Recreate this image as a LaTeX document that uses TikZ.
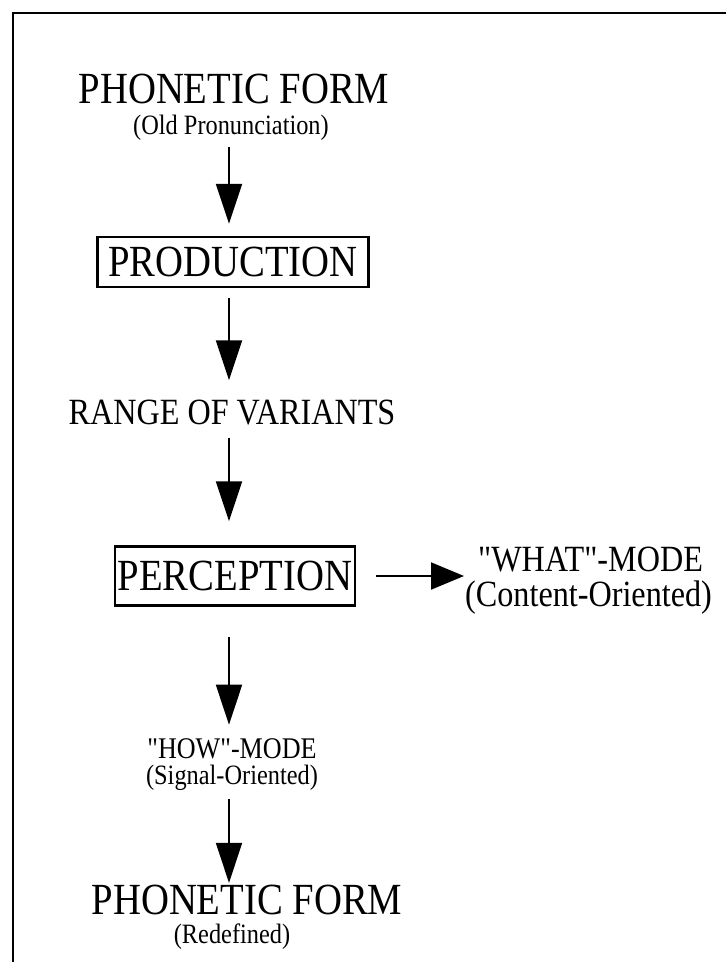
\documentclass[tikz,border=0pt]{standalone}
\usepackage{fontspec}
\setmainfont{Liberation Serif}[FakeStretch=0.87,Ligatures=TeXOff]
\usetikzlibrary{arrows.meta}
\begin{document}
\begin{tikzpicture}[x=1pt,y=-1pt,
  big/.style={font=\fontsize{44.5}{48}\selectfont, inner sep=0pt},
  med/.style={font=\fontsize{37}{40}\selectfont, inner sep=0pt},
  small/.style={font=\fontsize{28}{31}\selectfont, inner sep=0pt},
  boxed/.style={draw, line width=2.5pt},
  flow/.style={line width=2pt, -{Triangle[length=40pt,width=26pt]}},
  side/.style={line width=2pt, -{Triangle[length=33pt,width=27pt]}},
  frame/.style={line width=2.5pt},
]
\useasboundingbox (0,0) rectangle (726,962);
% frame
\coordinate (fb) at (13,964);
\coordinate (fc) at (13,13);
\coordinate (fr) at (728,13);
\draw[frame] (fb) -- (fc) -- (fr);
% axis of the vertical arrows
\coordinate (ax) at (229,0);
% nodes
\node[big] (pf1) at (234,89) {PHONETIC FORM};
\node[small] (old) at (231,128) {(Old Pronunciation)};
\node[big,boxed,minimum width=271pt,minimum height=50pt] (prod) at (233,262) {PRODUCTION};
\node[med] (range) at (232,413) {RANGE OF VARIANTS};
\node[big,boxed,minimum width=240pt,minimum height=59pt] (perc) at (235,576) {PERCEPTION};
\node[med,anchor=west] (what) at (478,560) {"WHAT"-MODE};
\node[med,anchor=west] (content) at (465,598) {(Content-Oriented)};
\node[small,font=\fontsize{30}{33}\selectfont] (how) at (232,749) {"HOW"-MODE};
\node[small] (signal) at (232,778) {(Signal-Oriented)};
\node[big] (pf2) at (247,900) {PHONETIC FORM};
\node[small] (redef) at (232,937) {(Redefined)};
% connectors
\draw[flow,shorten <=6pt,shorten >=12pt] (old.south -| ax) -- (prod.north -| ax);
\draw[flow,shorten <=10pt,shorten >=20pt] (prod.south -| ax) -- (range.north -| ax);
\draw[flow,shorten <=12pt,shorten >=24pt] (range.south -| ax) -- (perc.north -| ax);
\draw[side,shorten <=20pt,shorten >=14pt] (perc.east) -- (perc.east -| what.west);
\draw[flow,shorten <=30pt,shorten >=14pt] (perc.south -| ax) -- (how.north -| ax);
\draw[flow,shorten <=8pt,shorten >=2pt] (signal.south -| ax) -- (pf2.north -| ax);
\end{tikzpicture}
\end{document}
